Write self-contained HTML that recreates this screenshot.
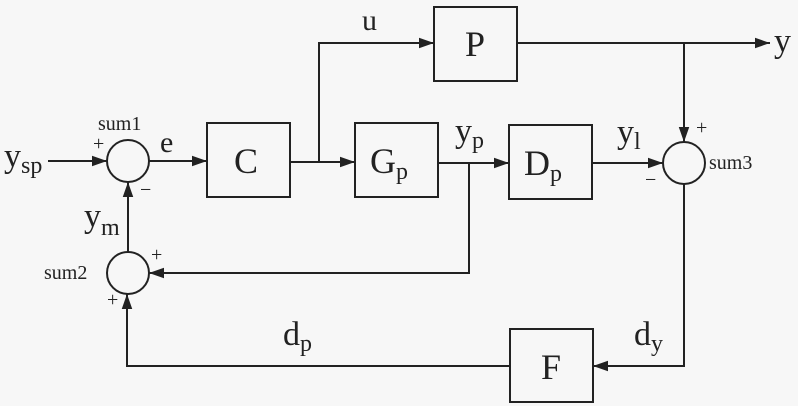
<!DOCTYPE html>
<html><head><style>body{margin:0;background:#f7f7f7}svg{display:block}</style></head><body>
<svg width="798" height="406" viewBox="0 0 798 406" xmlns="http://www.w3.org/2000/svg" font-family="Liberation Serif, serif" fill="#222">
<defs><marker id="a" viewBox="0 0 10 10" refX="10" refY="5" markerWidth="15" markerHeight="15" markerUnits="userSpaceOnUse" orient="auto"><path d="M0,1.5 L10,5 L0,8.5z" fill="#222"/></marker></defs>
<g stroke="#222" stroke-width="2" fill="none">
<rect x="207" y="123" width="83" height="74"/>
<rect x="355" y="123" width="83" height="74"/>
<rect x="434" y="7" width="83" height="74"/>
<rect x="509" y="125" width="83" height="74"/>
<rect x="510" y="329" width="83" height="73"/>
<circle cx="128" cy="161" r="21"/>
<circle cx="128" cy="273" r="21"/>
<circle cx="684" cy="163" r="21"/>
<line x1="48" y1="161" x2="107" y2="161" marker-end="url(#a)"/>
<line x1="149" y1="161" x2="207" y2="161" marker-end="url(#a)"/>
<line x1="290" y1="162" x2="355" y2="162" marker-end="url(#a)"/>
<polyline points="319,162 319,43 434,43" marker-end="url(#a)"/>
<line x1="517" y1="43" x2="770" y2="43" marker-end="url(#a)"/>
<line x1="684" y1="43" x2="684" y2="142" marker-end="url(#a)"/>
<line x1="438" y1="163" x2="509" y2="163" marker-end="url(#a)"/>
<line x1="592" y1="163" x2="663" y2="163" marker-end="url(#a)"/>
<polyline points="469,163 469,273 149,273" marker-end="url(#a)"/>
<line x1="128" y1="252" x2="128" y2="182" marker-end="url(#a)"/>
<polyline points="684,184 684,366 593,366" marker-end="url(#a)"/>
<polyline points="510,366 127,366 127,294" marker-end="url(#a)"/>
</g>
<g font-size="36" text-anchor="middle">
<text x="246" y="173">C</text>
<text x="389" y="173">G<tspan font-size="24" dy="6">p</tspan></text>
<text x="475" y="56">P</text>
<text x="543" y="175">D<tspan font-size="24" dy="6">p</tspan></text>
<text x="551" y="379">F</text>
</g>
<g font-size="34">
<text x="4" y="167">y<tspan font-size="24" dy="6">sp</tspan></text>
<text x="84" y="227">y<tspan font-size="24" dy="8">m</tspan></text>
<text x="160" y="152" font-size="30">e</text>
<text x="362" y="30" font-size="30">u</text>
<text x="455" y="142">y<tspan font-size="24" dy="6">p</tspan></text>
<text x="617" y="143">y<tspan font-size="24" dy="6">l</tspan></text>
<text x="634" y="345">d<tspan font-size="24" dy="6">y</tspan></text>
<text x="283" y="345">d<tspan font-size="24" dy="6">p</tspan></text>
<text x="774" y="52">y</text>
</g>
<g font-size="20">
<text x="98" y="130">sum1</text>
<text x="44" y="279">sum2</text>
<text x="709" y="169">sum3</text>
<text x="93" y="150">+</text>
<text x="140" y="196">−</text>
<text x="151" y="261">+</text>
<text x="107" y="306">+</text>
<text x="696" y="134">+</text>
<text x="645" y="186">−</text>
</g>
</svg>
</body></html>
